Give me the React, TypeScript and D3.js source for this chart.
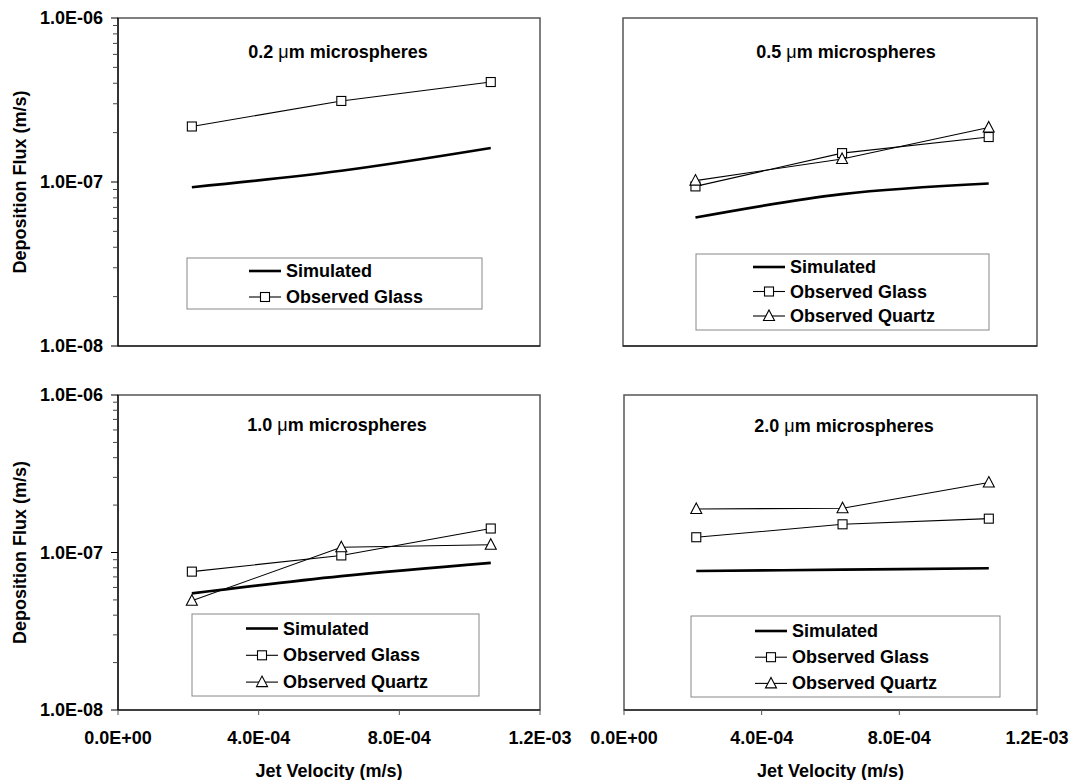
import React from 'react';
import * as d3 from 'd3';

// ---------------- data ----------------
const jetVelocity = [2.1e-4, 6.35e-4, 1.06e-3];

const particleSizes = ['0.2', '0.5', '1.0', '2.0'];

const simulated02 = [9.3e-8, 1.17e-7, 1.61e-7];
const glass02 = [2.18e-7, 3.12e-7, 4.07e-7];

const simulated05 = [6.07e-8, 8.43e-8, 9.79e-8];
const glass05 = [9.4e-8, 1.5e-7, 1.88e-7];
const quartz05 = [1.02e-7, 1.38e-7, 2.15e-7];

const simulated10 = [5.5e-8, 7.08e-8, 8.59e-8];
const glass10 = [7.56e-8, 9.58e-8, 1.42e-7];
const quartz10 = [4.94e-8, 1.08e-7, 1.12e-7];

const simulated20 = [7.63e-8, 7.78e-8, 7.94e-8];
const glass20 = [1.25e-7, 1.51e-7, 1.64e-7];
const quartz20 = [1.89e-7, 1.91e-7, 2.78e-7];

const xTicks = [0, 4e-4, 8e-4, 1.2e-3];
const xTickLabels = ['0.0E+00', '4.0E-04', '8.0E-04', '1.2E-03'];
const yTicks = [1e-8, 1e-7, 1e-6];
const yTickLabels = ['1.0E-08', '1.0E-07', '1.0E-06'];
const yMinorTicks = d3.range(-8, -6).flatMap((e) => d3.range(2, 10).map((m) => m * Math.pow(10, e)));

const seriesNames = ['Simulated', 'Observed Glass', 'Observed Quartz'];
const xAxisTitle = 'Jet Velocity (m/s)';
const yAxisTitle = 'Deposition Flux (m/s)';

const panelData = [
  { size: particleSizes[0], simulated: simulated02, glass: glass02, quartz: null as number[] | null },
  { size: particleSizes[1], simulated: simulated05, glass: glass05, quartz: quartz05 },
  { size: particleSizes[2], simulated: simulated10, glass: glass10, quartz: quartz10 },
  { size: particleSizes[3], simulated: simulated20, glass: glass20, quartz: quartz20 },
];

// ---------------- layout ----------------
const layouts = [
  { x0: 118, x1: 540, y0: 18, y1: 346, showY: true, showX: false, tx: 338, ty: 52,
    lg: { x: 187, y: 258, w: 295, h: 51, r0: 13, gap: 26, lx: 62 } },
  { x0: 623, x1: 1037, y0: 18, y1: 346, showY: false, showX: false, tx: 846, ty: 52,
    lg: { x: 696, y: 254, w: 293, h: 76, r0: 13, gap: 24.5, lx: 57 } },
  { x0: 118, x1: 540, y0: 395, y1: 710, showY: true, showX: true, tx: 337, ty: 425,
    lg: { x: 192, y: 614, w: 287, h: 82, r0: 14.5, gap: 26.8, lx: 54 } },
  { x0: 624, x1: 1037, y0: 395, y1: 710, showY: false, showX: true, tx: 844, ty: 426,
    lg: { x: 691, y: 616, w: 309, h: 81, r0: 15, gap: 26.2, lx: 64 } },
];

const FONT = '"Liberation Sans", Arial, Helvetica, sans-serif';
const FS = 18;

const Square = ({ x, y }: { x: number; y: number }) => (
  <rect x={x - 4.5} y={y - 4.5} width={9} height={9} fill="#fff" stroke="#000" strokeWidth={1.1} />
);
const Triangle = ({ x, y }: { x: number; y: number }) => (
  <path d={`M${x},${y - 6}L${x + 5.5},${y + 4.5}L${x - 5.5},${y + 4.5}Z`} fill="#fff" stroke="#000" strokeWidth={1.1} />
);

function Panel({ d, L }: { d: (typeof panelData)[number]; L: (typeof layouts)[number] }) {
  const x = d3.scaleLinear().domain([0, 1.2e-3]).range([L.x0, L.x1]);
  const y = d3.scaleLog().domain([1e-8, 1e-6]).range([L.y1, L.y0]);
  const lineStraight = d3.line<number>().x((_, i) => x(jetVelocity[i])).y((v) => y(v));
  const lineSmooth = d3.line<number>().x((_, i) => x(jetVelocity[i])).y((v) => y(v)).curve(d3.curveCatmullRom.alpha(0.5));
  const lg = L.lg;
  const rows = d.quartz ? 3 : 2;
  return (
    <g>
      {/* frame */}
      <rect x={L.x0} y={L.y0} width={L.x1 - L.x0} height={L.y1 - L.y0} fill="none" stroke="#555" strokeWidth={1.5} />
      {L.showY && <line x1={L.x0} x2={L.x0} y1={L.y0} y2={L.y1} stroke="#000" strokeWidth={1.2} />}
      <line x1={L.x0} x2={L.x1} y1={L.y1} y2={L.y1} stroke="#000" strokeWidth={1.2} />
      {L.showY && yMinorTicks.map((t, i) => (
        <line key={'m' + i} x1={L.x0 - 5} x2={L.x0} y1={y(t)} y2={y(t)} stroke="#444" strokeWidth={1} />
      ))}
      {L.showY && yTicks.map((t, i) => (
        <g key={'y' + i}>
          <line x1={L.x0 - 7} x2={L.x0} y1={y(t)} y2={y(t)} stroke="#000" strokeWidth={1} />
          <text x={103} y={y(t)} textAnchor="end" dominantBaseline="central" fontFamily={FONT} fontWeight="bold" fontSize={FS}>
            {yTickLabels[i]}
          </text>
        </g>
      ))}
      {L.showX && xTicks.map((t, i) => (
        <g key={'x' + i}>
          <line x1={x(t)} x2={x(t)} y1={L.y1} y2={L.y1 + 5} stroke="#555" strokeWidth={1} />
          <text x={x(t)} y={738} textAnchor="middle" dominantBaseline="central" fontFamily={FONT} fontWeight="bold" fontSize={FS}>
            {xTickLabels[i]}
          </text>
        </g>
      ))}
      {L.showY && (
        <text transform={`translate(20,${(L.y0 + L.y1) / 2}) rotate(-90)`} textAnchor="middle" dominantBaseline="central"
          fontFamily={FONT} fontWeight="bold" fontSize={FS}>{yAxisTitle}</text>
      )}
      {L.showX && (
        <text x={(L.x0 + L.x1) / 2} y={771} textAnchor="middle" dominantBaseline="central"
          fontFamily={FONT} fontWeight="bold" fontSize={FS}>{xAxisTitle}</text>
      )}
      {/* title */}
      <text x={L.tx} y={L.ty} textAnchor="middle" dominantBaseline="central" fontFamily={FONT} fontWeight="bold" fontSize={FS}>
        {d.size + ' '}<tspan fontWeight="normal">μ</tspan>m microspheres
      </text>
      {/* series */}
      <path d={lineSmooth(d.simulated) || ''} fill="none" stroke="#000" strokeWidth={2.6} />
      <path d={lineStraight(d.glass) || ''} fill="none" stroke="#000" strokeWidth={1.1} />
      {d.quartz && <path d={lineStraight(d.quartz) || ''} fill="none" stroke="#000" strokeWidth={1.1} />}
      {d.glass.map((v, i) => <Square key={'g' + i} x={x(jetVelocity[i])} y={y(v)} />)}
      {d.quartz && d.quartz.map((v, i) => <Triangle key={'q' + i} x={x(jetVelocity[i])} y={y(v)} />)}
      {/* legend */}
      <rect x={lg.x} y={lg.y} width={lg.w} height={lg.h} fill="#fff" stroke="#888" strokeWidth={1} />
      {seriesNames.slice(0, rows).map((name, i) => {
        const ry = lg.y + lg.r0 + i * lg.gap;
        const lx0 = lg.x + lg.lx;
        const lx1 = lx0 + 32;
        return (
          <g key={name}>
            <line x1={lx0} x2={lx1} y1={ry} y2={ry} stroke="#000" strokeWidth={i === 0 ? 2.6 : 1.1} />
            {i === 1 && <Square x={(lx0 + lx1) / 2} y={ry} />}
            {i === 2 && <Triangle x={(lx0 + lx1) / 2} y={ry} />}
            <text x={lx1 + 5} y={ry} dominantBaseline="central" fontFamily={FONT} fontWeight="bold" fontSize={FS}>{name}</text>
          </g>
        );
      })}
    </g>
  );
}

export default function App() {
  return (
    <div style={{ position: 'absolute', left: 0, top: 0 }}>
      <svg width={1071} height={780} style={{ display: 'block', background: '#fff' }}>
        <rect width={1071} height={780} fill="#fff" />
        {panelData.map((d, i) => <Panel key={i} d={d} L={layouts[i]} />)}
      </svg>
    </div>
  );
}
